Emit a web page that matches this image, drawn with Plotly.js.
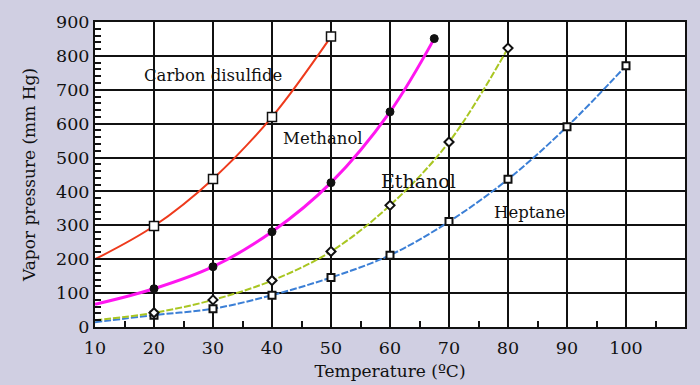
<!DOCTYPE html>
<html>
<head>
<meta charset="utf-8">
<script src="https://cdn.plot.ly/plotly-3.0.1.min.js"></script>
<style>
html,body{margin:0;padding:0;background:#d0cfe2;}
#chart{width:700px;height:385px;}
</style>
</head>
<body>
<div id="chart"></div>
<script>
// Data
const csTemp = [10, 20, 30, 40, 50];
const csPress = [200, 298, 437, 620, 857];
const csMarker = [0, 9, 9, 9, 9];

const meTemp = [10, 20, 30, 40, 50, 60, 67.5];
const mePress = [67, 113, 178, 281, 426, 635, 851];
const meMarker = [0, 8, 8, 8, 8, 8, 8];

const etTemp = [10, 20, 30, 40, 50, 60, 70, 80];
const etPress = [20, 42, 80, 137, 223, 359, 546, 823];
const etMarker = [0, 7, 7, 7, 7, 7, 7, 7];

const hpTemp = [10, 20, 30, 40, 50, 60, 70, 80, 90, 100];
const hpPress = [14, 35, 54, 94, 146, 212, 311, 436, 591, 771];
const hpMarker = [0, 7, 7, 7, 7, 7, 7, 7, 7, 7];

const labels = ["Carbon disulfide", "Methanol", "Ethanol", "Heptane"];
const labelX = [30, 48.7, 64.8, 83.8];
const labelY = [743, 557, 432, 338];
const labelSize = [16.5, 16.5, 19, 16.5];

const xTicks = [10, 20, 30, 40, 50, 60, 70, 80, 90, 100, 110];
const yTicks = [0, 100, 200, 300, 400, 500, 600, 700, 800, 900];

const serif = "DejaVu Serif, serif";

const traces = [
  {x: hpTemp, y: hpPress, mode: 'lines+markers', line: {color: '#3b7fd6', width: 2, dash: '7px,2px', shape: 'spline'},
   marker: {symbol: 'square', size: hpMarker, color: '#ffffff', opacity: 1, line: {color: '#111', width: 2}}},
  {x: etTemp, y: etPress, mode: 'lines+markers', line: {color: '#a9c622', width: 2, dash: '7px,2px', shape: 'spline'},
   marker: {symbol: 'diamond', size: etMarker, color: '#ffffff', opacity: 1, line: {color: '#111', width: 2}}},
  {x: meTemp, y: mePress, mode: 'lines+markers', line: {color: '#ff16f0', width: 3, shape: 'spline'},
   marker: {symbol: 'circle', size: meMarker, color: '#111111', opacity: 1, line: {color: '#111', width: 1}}},
  {x: csTemp, y: csPress, mode: 'lines+markers', line: {color: '#ee3a1c', width: 2, shape: 'spline'},
   marker: {symbol: 'square', size: csMarker, color: '#ffffff', opacity: 1, line: {color: '#111', width: 1.5}}}
];

const annotations = labels.map((t, i) => ({
  x: labelX[i], y: labelY[i], xref: 'x', yref: 'y', text: t, showarrow: false,
  font: {family: serif, size: labelSize[i], color: '#111'}
}));

const layout = {
  width: 700, height: 385,
  margin: {l: 95, r: 15, t: 22, b: 58},
  paper_bgcolor: '#d0cfe2',
  plot_bgcolor: '#ffffff',
  showlegend: false,
  font: {family: serif, color: '#111'},
  xaxis: {
    range: [10, 110], tickvals: xTicks, ticktext: xTicks.map(String),
    showgrid: true, gridcolor: '#111', gridwidth: 2,
    showline: true, linecolor: '#111', linewidth: 2, mirror: true,
    ticks: 'inside', ticklen: 6, tickwidth: 2, tickcolor: '#111',
    minor: {dtick: 5, ticks: 'inside', ticklen: 6, tickwidth: 2, tickcolor: '#111', showgrid: false},
    tickfont: {family: serif, size: 17.5, color: '#111'},
    ticklabelstandoff: 4,
    title: {text: 'Temperature (ºC)', font: {family: serif, size: 17, color: '#111'}, standoff: 8},
    zeroline: false, fixedrange: true
  },
  yaxis: {
    range: [0, 900], tickvals: yTicks, ticktext: yTicks.map(String),
    showgrid: true, gridcolor: '#111', gridwidth: 2,
    showline: true, linecolor: '#111', linewidth: 2, mirror: true,
    ticks: 'inside', ticklen: 6, tickwidth: 2, tickcolor: '#111',
    minor: {dtick: 20, ticks: 'inside', ticklen: 6, tickwidth: 2, tickcolor: '#111', showgrid: false},
    tickfont: {family: serif, size: 17.5, color: '#111'},
    title: {text: 'Vapor pressure (mm Hg)', font: {family: serif, size: 17, color: '#111'}, standoff: 16},
    zeroline: false, fixedrange: true
  },
  annotations: annotations
};

Plotly.newPlot('chart', traces, layout, {staticPlot: true, displayModeBar: false});
</script>
</body>
</html>
